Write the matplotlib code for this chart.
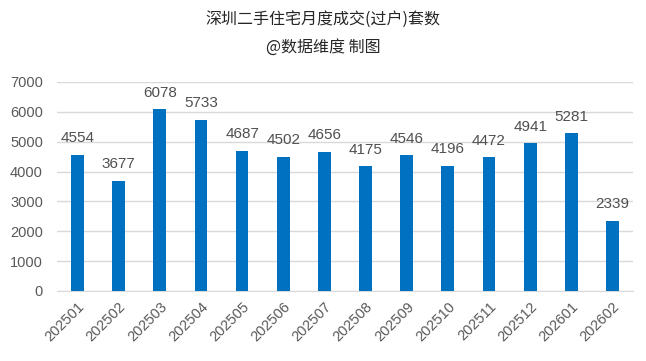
import matplotlib

matplotlib.use("Agg")
import matplotlib.pyplot as plt

months = ["202501", "202502", "202503", "202504", "202505", "202506",
          "202507", "202508", "202509", "202510", "202511", "202512",
          "202601", "202602"]
deals = [4554, 3677, 6078, 5733, 4687, 4502, 4656, 4175, 4546, 4196,
         4472, 4941, 5281, 2339]
yticks = [0, 1000, 2000, 3000, 4000, 5000, 6000, 7000]

BLUE = "#0070C0"
GRID = "#D9D9D9"
TICK = "#595959"
FONTS = ["Liberation Sans", "Noto Sans CJK SC", "DejaVu Sans"]
plt.rcParams["font.family"] = FONTS

fig = plt.figure(figsize=(6.46, 3.61), dpi=100)
ax = fig.add_axes([0.088, 0.194, 0.892, 0.579])

x = range(len(months))
ax.bar(x, deals, width=0.31, color=BLUE, zorder=3)
for xi, v in zip(x, deals):
    ax.annotate(str(v), (xi, v), xytext=(0, 7), textcoords="offset points",
                ha="center", va="bottom", fontsize=11, color="#505050")

ax.set_xlim(-0.5, len(months) - 0.5)
ax.set_ylim(0, 7000)
ax.set_yticks(yticks)
ax.set_xticks(list(x))
ax.set_xticklabels(months, rotation=45, ha="right", rotation_mode="anchor")
ax.tick_params(axis="both", length=0, colors=TICK, labelsize=10.5)
ax.tick_params(axis="x", pad=6)
ax.tick_params(axis="y", pad=10)
ax.grid(axis="y", color=GRID, lw=1, zorder=0)
for s in ("top", "right", "left"):
    ax.spines[s].set_visible(False)
ax.spines["bottom"].set_color(GRID)

fig.text(0.5, 0.945, "深圳二手住宅月度成交(过户)套数", ha="center",
         va="center", fontsize=11.5, color="#262626",
         family=["Noto Sans CJK SC", "DejaVu Sans"])
fig.text(0.5, 0.87, "@数据维度 制图", ha="center", va="center",
         fontsize=11.5, color="#262626",
         family=["Noto Sans CJK SC", "DejaVu Sans"])

fig.savefig("out.png", dpi=100, facecolor="white")
